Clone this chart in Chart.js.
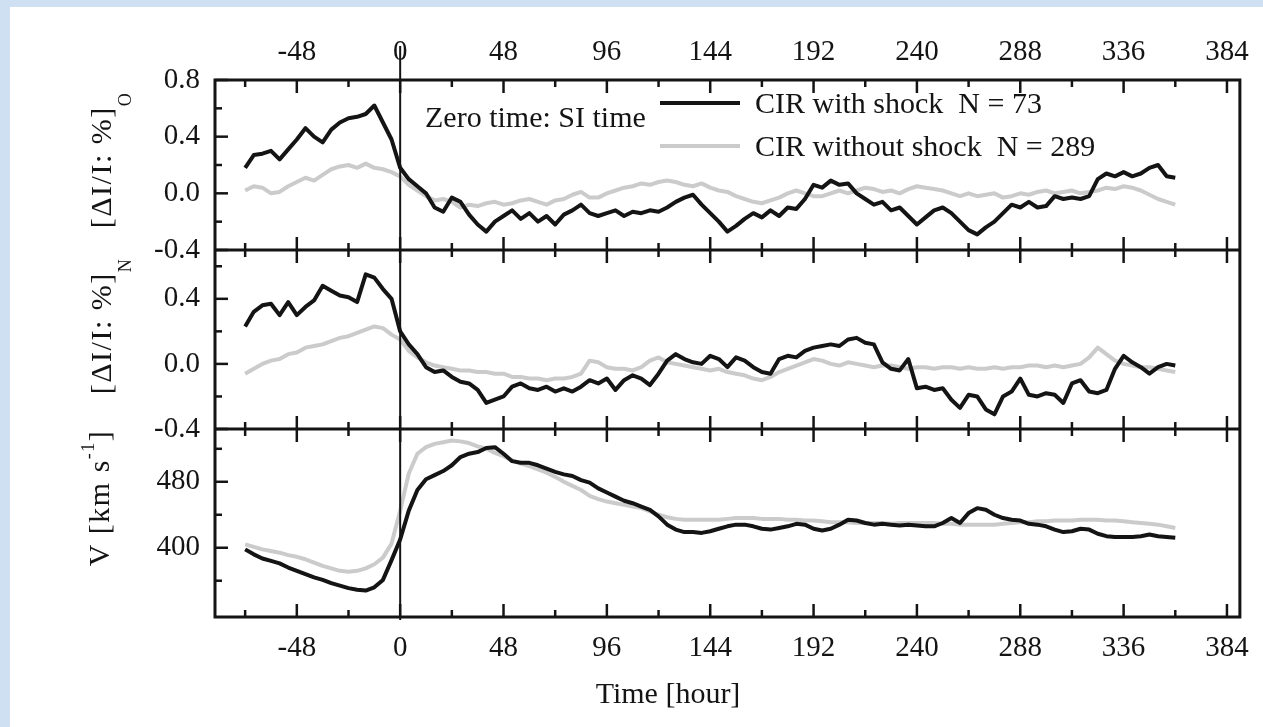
<!DOCTYPE html>
<html lang="en">
<head>
  <meta charset="UTF-8">
  <title>CIR with / without shock</title>
  <style>
    html, body { margin: 0; padding: 0; }
    body { width: 1263px; height: 727px; overflow: hidden; position: relative;
      background: #cfe0f2; }
    #sheet { position: absolute; left: 10px; top: 7px; right: 0; bottom: 0; background: #fff; }
    #wrap { position: absolute; left: 0; top: 0; width: 1263px; height: 727px; }
  </style>
</head>
<body>
  <div id="sheet"></div>
  <div id="wrap"><canvas id="myChart"></canvas></div>

  <script src="https://cdn.jsdelivr.net/npm/chart.js"></script>
  <script>
    // time grid, hours from SI time
    const hours = [
      -72, -68, -64, -60, -56, -52, -48, -44, -40, -36, -32, -28,
      -24, -20, -16, -12, -8, -4, 0, 4, 8, 12, 16, 20,
      24, 28, 32, 36, 40, 44, 48, 52, 56, 60, 64, 68,
      72, 76, 80, 84, 88, 92, 96, 100, 104, 108, 112, 116,
      120, 124, 128, 132, 136, 140, 144, 148, 152, 156, 160, 164,
      168, 172, 176, 180, 184, 188, 192, 196, 200, 204, 208, 212,
      216, 220, 224, 228, 232, 236, 240, 244, 248, 252, 256, 260,
      264, 268, 272, 276, 280, 284, 288, 292, 296, 300, 304, 308,
      312, 316, 320, 324, 328, 332, 336, 340, 344, 348, 352, 356,
      360
    ];

    // [dI/I: %]_O
    const oShock = [
      0.18, 0.27, 0.28, 0.30, 0.24, 0.31, 0.38, 0.46, 0.40, 0.36, 0.45, 0.50,
      0.53, 0.54, 0.56, 0.62, 0.50, 0.38, 0.18, 0.10, 0.05, 0.00, -0.10, -0.13,
      -0.03, -0.06, -0.15, -0.22, -0.27, -0.20, -0.16, -0.12, -0.18, -0.14, -0.20, -0.16,
      -0.22, -0.15, -0.12, -0.08, -0.14, -0.16, -0.14, -0.12, -0.16, -0.13, -0.14, -0.12,
      -0.13, -0.10, -0.06, -0.03, -0.01, -0.08, -0.14, -0.20, -0.27, -0.23, -0.18, -0.14,
      -0.17, -0.12, -0.16, -0.10, -0.11, -0.04, 0.06, 0.04, 0.09, 0.06, 0.07, 0.00,
      -0.04, -0.08, -0.06, -0.12, -0.10, -0.16, -0.22, -0.17, -0.12, -0.10, -0.14, -0.20,
      -0.26, -0.29, -0.24, -0.20, -0.14, -0.08, -0.10, -0.06, -0.10, -0.09, -0.02, -0.04,
      -0.03, -0.04, -0.02, 0.10, 0.14, 0.12, 0.15, 0.12, 0.14, 0.18, 0.20, 0.12,
      0.11
    ];
    const oNoShock = [
      0.02, 0.05, 0.04, 0.00, 0.01, 0.05, 0.08, 0.11, 0.09, 0.13, 0.17, 0.19,
      0.20, 0.18, 0.21, 0.18, 0.17, 0.15, 0.12, 0.06, 0.02, -0.02, -0.05, -0.04,
      -0.06, -0.10, -0.08, -0.09, -0.07, -0.06, -0.08, -0.07, -0.05, -0.04, -0.06, -0.08,
      -0.05, -0.04, -0.01, 0.01, -0.03, -0.03, 0.00, 0.02, 0.04, 0.05, 0.07, 0.06,
      0.08, 0.09, 0.08, 0.06, 0.05, 0.07, 0.04, 0.02, 0.01, -0.02, -0.04, -0.06,
      -0.07, -0.05, -0.03, 0.00, 0.02, 0.00, -0.02, -0.02, 0.00, 0.02, 0.00, 0.02,
      0.04, 0.03, 0.01, 0.02, 0.00, 0.03, 0.05, 0.04, 0.03, 0.02, 0.00, -0.02,
      0.00, -0.02, -0.01, 0.00, -0.03, -0.02, 0.00, -0.01, 0.01, 0.02, 0.00, 0.01,
      0.02, 0.00, 0.01, 0.02, 0.04, 0.03, 0.05, 0.04, 0.02, -0.01, -0.04, -0.06,
      -0.08
    ];

    // [dI/I: %]_N
    const nShock = [
      0.23, 0.32, 0.36, 0.37, 0.30, 0.38, 0.30, 0.35, 0.39, 0.48, 0.45, 0.42,
      0.41, 0.38, 0.55, 0.53, 0.46, 0.40, 0.20, 0.12, 0.06, -0.02, -0.05, -0.04,
      -0.08, -0.11, -0.12, -0.16, -0.24, -0.22, -0.20, -0.14, -0.12, -0.15, -0.16, -0.14,
      -0.17, -0.15, -0.17, -0.14, -0.10, -0.12, -0.09, -0.16, -0.10, -0.07, -0.09, -0.13,
      -0.06, 0.02, 0.06, 0.03, 0.01, 0.00, 0.05, 0.03, -0.02, 0.04, 0.02, -0.02,
      -0.05, -0.06, 0.03, 0.05, 0.04, 0.08, 0.10, 0.11, 0.12, 0.11, 0.15, 0.16,
      0.13, 0.12, 0.01, -0.03, -0.04, 0.03, -0.15, -0.14, -0.16, -0.15, -0.22, -0.27,
      -0.19, -0.20, -0.28, -0.31, -0.20, -0.17, -0.09, -0.19, -0.20, -0.18, -0.19, -0.24,
      -0.12, -0.10, -0.17, -0.18, -0.16, -0.03, 0.05, 0.01, -0.02, -0.06, -0.02, 0.00,
      -0.01
    ];
    const nNoShock = [
      -0.06, -0.03, 0.00, 0.02, 0.03, 0.06, 0.07, 0.10, 0.11, 0.12, 0.14, 0.16,
      0.17, 0.19, 0.21, 0.23, 0.22, 0.18, 0.15, 0.08, 0.04, 0.01, -0.01, -0.02,
      -0.03, -0.04, -0.04, -0.05, -0.05, -0.06, -0.06, -0.08, -0.08, -0.09, -0.09, -0.10,
      -0.09, -0.09, -0.08, -0.06, 0.02, 0.01, -0.02, -0.03, -0.03, -0.04, -0.02, 0.02,
      0.04, 0.01, 0.00, -0.01, -0.02, -0.03, -0.04, -0.03, -0.05, -0.06, -0.07, -0.09,
      -0.10, -0.08, -0.05, -0.03, -0.01, 0.01, 0.03, 0.02, 0.00, -0.01, 0.01, 0.00,
      -0.01, -0.02, -0.01, -0.01, -0.02, -0.03, -0.02, -0.02, -0.03, -0.02, -0.02, -0.03,
      -0.02, -0.03, -0.03, -0.02, -0.03, -0.02, -0.02, -0.01, -0.01, -0.02, -0.01, -0.02,
      -0.01, 0.00, 0.04, 0.10, 0.06, 0.02, 0.00, -0.01, -0.02, -0.02, -0.03, -0.04,
      -0.05
    ];

    // solar wind speed V [km/s]
    const vShock = [
      398, 392, 387, 384, 381, 376, 372, 368, 364, 361, 357, 354,
      351, 349, 348, 352, 361, 385, 410, 445, 470, 483, 488, 493,
      500, 510, 514, 516, 521, 522, 514, 505, 503, 503, 500, 496,
      492, 489, 487, 482, 479, 472, 467, 462, 457, 454, 450, 446,
      438, 428, 422, 419, 419, 418, 420, 423, 426, 428, 428, 426,
      423, 422, 424, 426, 429, 428, 423, 421, 423, 428, 434, 433,
      430, 428, 429, 428, 427, 428, 427, 426, 426, 430, 436, 430,
      442, 448, 446, 440, 436, 434, 433, 429, 428, 426, 422, 419,
      420, 423, 422, 417, 414, 413, 413, 413, 414, 416, 414, 413,
      412
    ];
    const vNoShock = [
      404, 401, 398, 396, 394, 391, 389, 386, 382, 378, 375, 372,
      371, 372, 375, 380, 388, 405, 445, 490, 514, 522, 526, 528,
      530, 529, 527, 523, 520, 515, 511, 506, 502, 499, 495, 491,
      486, 480, 475, 470, 463, 459, 456, 454, 452, 450, 448, 444,
      440, 437, 435, 434, 434, 434, 434, 434, 435, 436, 436, 436,
      435, 435, 435, 434, 434, 433, 433, 432, 431, 431, 431, 430,
      430, 430, 430, 429, 430, 430, 430, 430, 430, 429, 429, 428,
      428, 428, 428, 428, 429, 430, 431, 431, 432, 432, 433, 433,
      433, 434, 434, 434, 433, 433, 432, 431, 430, 429, 428, 426,
      424
    ];

    // axes
    const xTicks  = [-72, -48, -24, 0, 24, 48, 72, 96, 120, 144, 168, 192, 216, 240, 264, 288, 312, 336, 360, 384];
    const xLabels = ['', '-48', '', '0', '', '48', '', '96', '', '144', '', '192', '', '240', '', '288', '', '336', '', '384'];
    const yOTicks  = [-0.4, -0.2, 0, 0.2, 0.4, 0.6, 0.8];
    const yOLabels = ['-0.4', '', '0.0', '', '0.4', '', '0.8'];
    const yNTicks  = [-0.4, -0.2, 0, 0.2, 0.4, 0.6];
    const yNLabels = ['-0.4', '', '0.0', '', '0.4', ''];
    const yVTicks  = [360, 400, 440, 480, 520];
    const yVLabels = ['', '400', '', '480', ''];

    const seriesNames = ['CIR with shock  N = 73', 'CIR without shock  N = 289'];

    const ink = '#141414';
    const gray = '#cbcbcb';
    const serif = "'Liberation Serif', 'Times New Roman', serif";
    Chart.defaults.font.family = serif;
    Chart.defaults.color = ink;

    const line = (label, values, color, yAxisID) => ({
      label, yAxisID, xAxisID: 'x',
      data: hours.map((h, i) => ({ x: h, y: values[i] })),
      borderColor: color, borderWidth: 4, borderJoinStyle: 'round',
      pointRadius: 0, tension: 0, fill: false
    });

    const yAxis = (min, max, weight, ticks, labels) => ({
      type: 'linear', position: 'left', stack: 'panels', stackWeight: weight,
      min, max,
      grid: { display: false, drawTicks: false },
      border: { display: false },
      afterFit: s => { s.width = 215; },
      afterBuildTicks: s => { s.ticks = ticks.map(v => ({ value: v })); },
      ticks: { autoSkip: false, padding: 15, font: { size: 29 }, callback: (v, i) => labels[i] }
    });

    const xAxis = (position, height, pad) => ({
      type: 'linear', position, min: -86, max: 390,
      grid: { display: false, drawTicks: false },
      border: { display: false },
      afterFit: s => { s.height = height; },
      afterBuildTicks: s => { s.ticks = xTicks.map(v => ({ value: v })); },
      ticks: { autoSkip: false, maxRotation: 0, padding: pad, font: { size: 29 }, callback: (v, i) => xLabels[i] }
    });

    // frame, inward ticks, zero-time line
    const framePlugin = {
      id: 'frame',
      afterDatasetsDraw(chart) {
        const { ctx, chartArea: a, scales } = chart;
        const x = scales.x;
        const seg = (x1, y1, x2, y2) => { ctx.beginPath(); ctx.moveTo(x1, y1); ctx.lineTo(x2, y2); ctx.stroke(); };
        ctx.save();
        ctx.strokeStyle = ink;
        ctx.lineWidth = 2.5;
        ['yO', 'yN', 'yV'].forEach(id => {
          const s = scales[id];
          xTicks.forEach((t, i) => {
            const px = x.getPixelForValue(t);
            const len = xLabels[i] ? 13 : 7;
            seg(px, s.top, px, s.top + len);
            seg(px, s.bottom, px, s.bottom - len);
          });
          s.ticks.forEach(tk => {
            const py = s.getPixelForValue(tk.value);
            const len = tk.label ? 13 : 7;
            seg(a.left, py, a.left + len, py);
          });
        });
        ctx.lineWidth = 3;
        ctx.strokeRect(a.left, a.top, a.right - a.left, a.bottom - a.top);
        seg(a.left, scales.yO.bottom, a.right, scales.yO.bottom);
        seg(a.left, scales.yN.bottom, a.right, scales.yN.bottom);
        ctx.lineWidth = 2;
        const z = x.getPixelForValue(0);
        seg(z, 46, z, a.bottom + 3);
        ctx.restore();
      }
    };

    const rotated = (ctx, parts, baseX, cy) => {
      ctx.save();
      let total = 0;
      parts.forEach(p => { ctx.font = `${p.size}px ${serif}`; p.w = ctx.measureText(p.text).width; total += p.w; });
      ctx.translate(baseX, cy);
      ctx.rotate(-Math.PI / 2);
      ctx.textAlign = 'left';
      ctx.textBaseline = 'alphabetic';
      let px = -total / 2;
      parts.forEach(p => { ctx.font = `${p.size}px ${serif}`; ctx.fillText(p.text, px, p.dy || 0); px += p.w; });
      ctx.restore();
    };

    const textPlugin = {
      id: 'texts',
      afterDraw(chart) {
        const { ctx } = chart;
        ctx.save();
        ctx.fillStyle = ink;
        ctx.textBaseline = 'middle';
        ctx.font = `30px ${serif}`;
        ctx.textAlign = 'center';
        ctx.fillText('Time [hour]', 668, 695);
        ctx.textAlign = 'left';
        ctx.fillText('Zero time: SI time', 425, 119);

        const ds = chart.data.datasets;
        [[ds[0], 103], [ds[3], 146]].forEach(([d, y]) => {
          ctx.strokeStyle = d.borderColor;
          ctx.lineWidth = 4;
          ctx.beginPath(); ctx.moveTo(660, y); ctx.lineTo(740, y); ctx.stroke();
          ctx.fillText(d.label, 755, y + 2);
        });

        if ('letterSpacing' in ctx) ctx.letterSpacing = '1.5px';
        rotated(ctx, [{ text: '[ΔI/I: %]', size: 30 }, { text: 'O', size: 18, dy: 20 }], 111, 160);
        rotated(ctx, [{ text: '[ΔI/I: %]', size: 30 }, { text: 'N', size: 18, dy: 20 }], 111, 326);
        rotated(ctx, [{ text: 'V [km s', size: 30 }, { text: '-1', size: 18, dy: -15 }, { text: ']', size: 30 }], 109, 498);
        ctx.restore();
      }
    };

    new Chart(document.getElementById('myChart'), {
      type: 'line',
      data: {
        datasets: [
          line(seriesNames[0], oShock, ink, 'yO'),
          line(seriesNames[0], nShock, ink, 'yN'),
          line(seriesNames[0], vShock, ink, 'yV'),
          line(seriesNames[1], oNoShock, gray, 'yO'),
          line(seriesNames[1], nNoShock, gray, 'yN'),
          line(seriesNames[1], vNoShock, gray, 'yV')
        ]
      },
      options: {
        responsive: true,
        maintainAspectRatio: false,
        animation: false,
        events: [],
        layout: { padding: { left: 0, top: 0, right: 22, bottom: 0 }, autoPadding: false },
        plugins: { legend: { display: false }, tooltip: { enabled: false } },
        scales: {
          x: xAxis('bottom', 110, 14),
          xTop: xAxis('top', 80, 10),
          yV: yAxis(316, 544, 188, yVTicks, yVLabels),
          yN: yAxis(-0.4, 0.7, 179, yNTicks, yNLabels),
          yO: yAxis(-0.4, 0.8, 170, yOTicks, yOLabels)
        }
      },
      plugins: [framePlugin, textPlugin]
    });
  </script>
</body>
</html>
